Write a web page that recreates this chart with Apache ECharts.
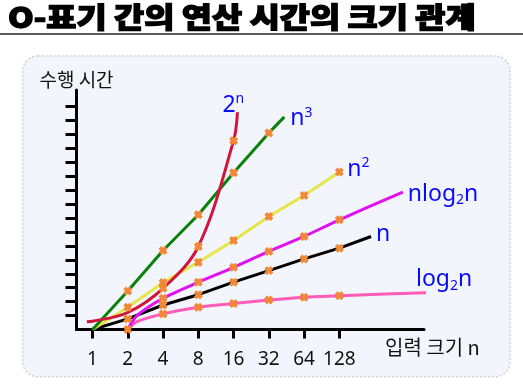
<!DOCTYPE html>
<html><head><meta charset="utf-8">
<script src="https://cdn.jsdelivr.net/npm/echarts@6/dist/echarts.min.js"></script>
<style>html,body{margin:0;padding:0;background:#fff}#c{width:523px;height:388px}</style>
</head><body><div id="c"></div>
<script>
// x positions are log2(n); y values are in "tick" units of the time axis
const xTickLabels = ['1', '2', '4', '8', '16', '32', '64', '128'];
const xTickValues = [0, 1, 2, 3, 4, 5, 6, 7];
const yTickValues = [1, 2, 3, 4, 5, 6, 7, 8, 9, 10, 11, 12, 13, 14, 15, 16];

const expX = [-0.16, 0, 1, 2, 3, 4, 4.11];
const expY = [0.56, 0.59, 1.22, 2.96, 5.96, 13.56, 15.6];
const expMark = [0, 0, 0, 1, 1, 1, 0];

const cubicX = [0, 1, 2, 3, 4, 5, 5.44];
const cubicY = [0, 2.77, 5.67, 8.24, 11.26, 14.12, 15.27];
const cubicMark = [0, 1, 1, 1, 1, 1, 0];

const quadX = [0, 1, 2, 3, 4, 5, 6, 7];
const quadY = [0, 1.6, 3.37, 4.83, 6.39, 8.12, 9.63, 11.31];
const quadMark = [0, 1, 1, 1, 1, 1, 1, 1];

const nlognX = [1, 1.25, 2, 3, 4, 5, 6, 7, 8.8];
const nlognY = [0, 0.97, 2.24, 3.4, 4.47, 5.61, 6.68, 7.88, 9.87];
const nlognMark = [1, 0, 1, 1, 1, 1, 1, 1, 0];

const linX = [0, 1, 2, 3, 4, 5, 6, 7, 7.9];
const linY = [0, 0.76, 1.76, 2.5, 3.4, 4.23, 5.07, 5.84, 6.68];
const linMark = [0, 1, 1, 1, 1, 1, 1, 1, 0];

const logX = [1, 1.25, 2, 3, 4, 5, 6, 7, 9.86];
const logY = [0, 0.54, 1.12, 1.6, 1.86, 2.12, 2.32, 2.43, 2.68];
const logMark = [0, 0, 1, 1, 1, 1, 1, 1, 0];

const XPATH = 'path://M0,3 L3,0 L5,2 L7,0 L10,3 L8,5 L10,7 L7,10 L5,8 L3,10 L0,7 L2,5 Z';
const LBL = '#0a0aff';
const rich = {
  m: {fontSize: 23, color: LBL, fontFamily: 'Noto Sans', lineHeight: 26},
  sup: {fontSize: 14, color: LBL, fontFamily: 'Noto Sans', verticalAlign: 'top', lineHeight: 14},
  sub: {fontSize: 14, color: LBL, fontFamily: 'Noto Sans', verticalAlign: 'bottom', lineHeight: 14}
};

function mk(name, xs, ys, marks, color, smooth, labelText, off) {
  return {
    type: 'line', name: name, clip: false, smooth: smooth,
    data: xs.map((x, i) => ({value: [x, ys[i]], symbol: marks[i] ? XPATH : 'none'})),
    showSymbol: true, symbolSize: 9,
    itemStyle: {color: '#f08838'},
    lineStyle: {color: color, width: 3},
    endLabel: {show: true, formatter: labelText, rich: rich, distance: 0,
      align: 'left', verticalAlign: 'middle', offset: off},
    emphasis: {disabled: true}, animation: false, z: 3
  };
}

const chart = echarts.init(document.getElementById('c'), null, {renderer: 'canvas'});
chart.setOption({
  animation: false,
  backgroundColor: '#ffffff',
  graphic: [
    {type: 'rect', z: -100, shape: {x: 22.7, y: 56, width: 487.3, height: 320.7, r: 15},
      style: {fill: '#f2f5fb', stroke: '#cfcfcf', lineWidth: 1.5, lineDash: [2, 2]}},
    {type: 'line', z: -100, shape: {x1: 0, y1: 34, x2: 523, y2: 34},
      style: {stroke: '#5a5a5a', lineWidth: 2}},
    {type: 'text', x: 8, y: 3, scaleX: 1.17, z: 10,
      style: {text: 'O-표기 간의 연산 시간의 크기 관계', fill: '#000', stroke: '#000', lineWidth: 1.3,
        font: '900 28px "Noto Sans CJK KR"', textVerticalAlign: 'top'}}
  ],
  grid: {left: 76.5, right: 99, top: 90, bottom: 58.5, containLabel: false},
  xAxis: {
    type: 'value', min: -0.454, max: 9.40,
    name: '입력 크기 n', nameLocation: 'end', nameGap: -39,
    nameTextStyle: {fontSize: 20, color: '#111', fontFamily: 'Noto Sans CJK KR',
      align: 'left', verticalAlign: 'top', lineHeight: 36},
    axisLine: {show: true, onZero: false, lineStyle: {color: '#000', width: 3}},
    axisTick: {show: true, customValues: xTickValues, length: 9, lineStyle: {color: '#000', width: 3}},
    axisLabel: {show: true, customValues: xTickValues, margin: 21, fontSize: 19, color: '#111',
      fontFamily: 'Noto Sans', formatter: v => xTickLabels[Math.round(v)]},
    splitLine: {show: false}
  },
  yAxis: {
    type: 'value', min: 0, max: 17.2,
    name: '수행 시간', nameLocation: 'end', nameGap: 1,
    nameTextStyle: {fontSize: 19, color: '#111', fontFamily: 'Noto Sans CJK KR'},
    axisLine: {show: true, onZero: false, lineStyle: {color: '#000', width: 3}},
    axisTick: {show: true, customValues: yTickValues, length: 11, lineStyle: {color: '#000', width: 3}},
    axisLabel: {show: false},
    splitLine: {show: false}
  },
  series: [
    mk('log2n', logX, logY, logMark, '#ff5cb8', 0.25, '{m|log}{sub|2}{m|n}', [-10, -13]),
    mk('n', linX, linY, linMark, '#000000', false, '{m|n}', [5, -2]),
    mk('nlog2n', nlognX, nlognY, nlognMark, '#e010f0', 0.25, '{m|nlog}{sub|2}{m|n}', [5, 2]),
    mk('n2', quadX, quadY, quadMark, '#e6e64a', false, '{m|n}{sup|2}', [8, -3]),
    mk('n3', cubicX, cubicY, cubicMark, '#0b800b', false, '{m|n}{sup|3}', [6, 2]),
    mk('2n', expX, expY, expMark, '#d2143a', 0.35, '{m|2}{sup|n}', [-15, -7])
  ]
});
</script></body></html>
